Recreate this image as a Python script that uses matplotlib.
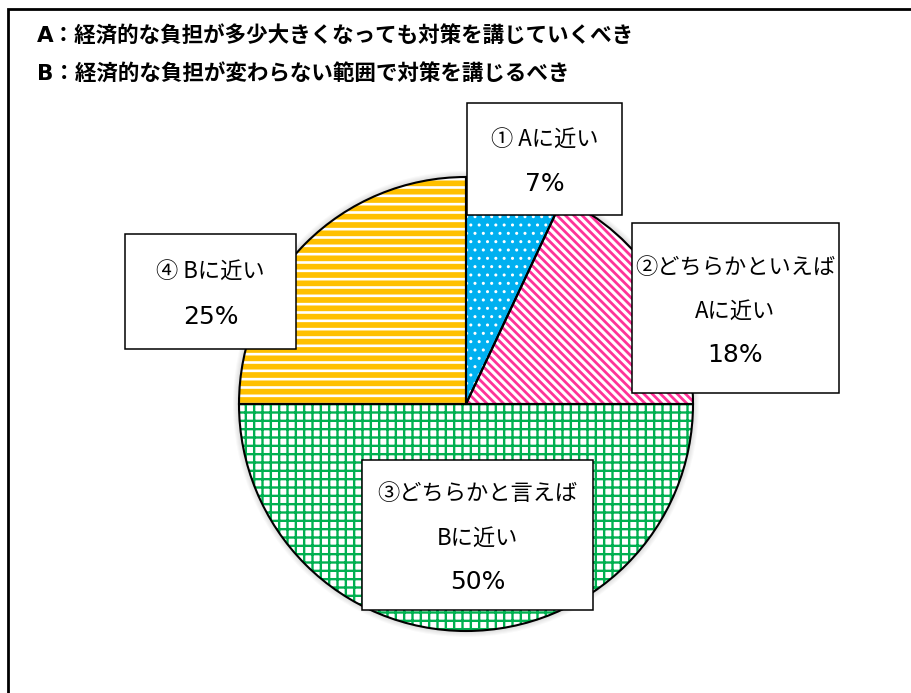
"""
Pie chart of the A/B opinion survey, drawn with hatched slices and boxed labels.
"""
import matplotlib
matplotlib.use('Agg')
import matplotlib.pyplot as plt
from matplotlib.patches import Rectangle, Circle

plt.rcParams['font.family'] = ['DejaVu Sans', 'Noto Sans CJK JP']

# Survey data
title_lines = ['A：経済的な負担が多少大きくなっても対策を講じていくべき',
               'B：経済的な負担が変わらない範囲で対策を講じるべき']
answer_labels = ['① Aに近い', '②どちらかといえば\nAに近い',
                 '③どちらかと言えば\nBに近い', '④ Bに近い']
shares = [7, 18, 50, 25]

# Slice styles: face colour, hatch colour, hatch pattern, hatch width (pt)
face_colors = ['#00B0F0', 'white', 'white', '#FFC000']
hatch_colors = ['white', '#FF3399', '#00B050', 'white']
hatches = ['..', '\\\\\\\\', '++', '--']
hatch_widths = [1.0, 2.0, 1.7, 1.9]

# Label boxes in image pixels (left, top, right, bottom)
label_boxes = [(467, 103, 622, 215), (632, 223, 839, 393),
               (362, 460, 593, 610), (125, 234, 296, 349)]

W, H = 912, 693


def Y(py):
    # image pixel row -> data y
    return H - py


def main():
    fig = plt.figure(figsize=(W / 100, H / 100), dpi=100)
    ax = fig.add_axes([0, 0, 1, 1])

    center = (466, Y(404))
    radius = 227

    # soft shadow round the pie
    for i in range(1, 7):
        ax.add_patch(Circle(center, radius + i, facecolor='black',
                            edgecolor='none', alpha=0.025, zorder=0))

    wedges, _ = ax.pie(shares, center=center, radius=radius, startangle=90,
                       counterclock=False, frame=True)
    for w, fc, hc, hp, hw in zip(wedges, face_colors, hatch_colors, hatches, hatch_widths):
        w.set_facecolor(fc)
        w.set_edgecolor(hc)
        w.set_linewidth(0)
        w.set_hatch(hp)
        w.set_zorder(1)
        if hasattr(w, 'set_hatch_linewidth'):
            w.set_hatch_linewidth(hw)
        else:
            plt.rcParams['hatch.linewidth'] = hw

    # outlines on top
    outline, _ = ax.pie(shares, center=center, radius=radius, startangle=90,
                        counterclock=False, frame=True,
                        wedgeprops=dict(facecolor='none', edgecolor='black', linewidth=1.5))
    for w in outline:
        w.set_zorder(2)

    ax.set_xlim(0, W)
    ax.set_ylim(0, H)
    ax.set_aspect('auto')
    ax.axis('off')

    # outer frame
    ax.add_patch(Rectangle((8, Y(H + 20)), W + 20, H + 11, facecolor='none',
                           edgecolor='black', linewidth=2, clip_on=False, zorder=5))

    # header lines
    for i, line in enumerate(title_lines):
        ax.text(37, Y(36 + 38 * i), line, fontsize=15.5, fontweight='bold',
                ha='left', va='center', zorder=6)

    # label boxes
    for (x0, y0, x1, y1), name, val in zip(label_boxes, answer_labels, shares):
        ax.add_patch(Rectangle((x0, Y(y1)), x1 - x0, y1 - y0, facecolor='white',
                               edgecolor='black', linewidth=1.1, zorder=3))
        lines = name.split('\n') + ['%d%%' % val]
        step = 44
        cy = (y0 + y1) / 2 + 3
        start = cy - step * (len(lines) - 1) / 2
        for j, ln in enumerate(lines):
            if j == len(lines) - 1:
                ax.text((x0 + x1) / 2, Y(start + step * j), ln, fontsize=18,
                        ha='center', va='center', zorder=4)
            else:
                ax.text((x0 + x1) / 2, Y(start + step * j), ln, fontsize=16,
                        family=['Noto Sans CJK JP', 'DejaVu Sans'],
                        ha='center', va='center', zorder=4)

    plt.savefig('out.png', dpi=100)
    plt.close()


if __name__ == '__main__':
    main()
